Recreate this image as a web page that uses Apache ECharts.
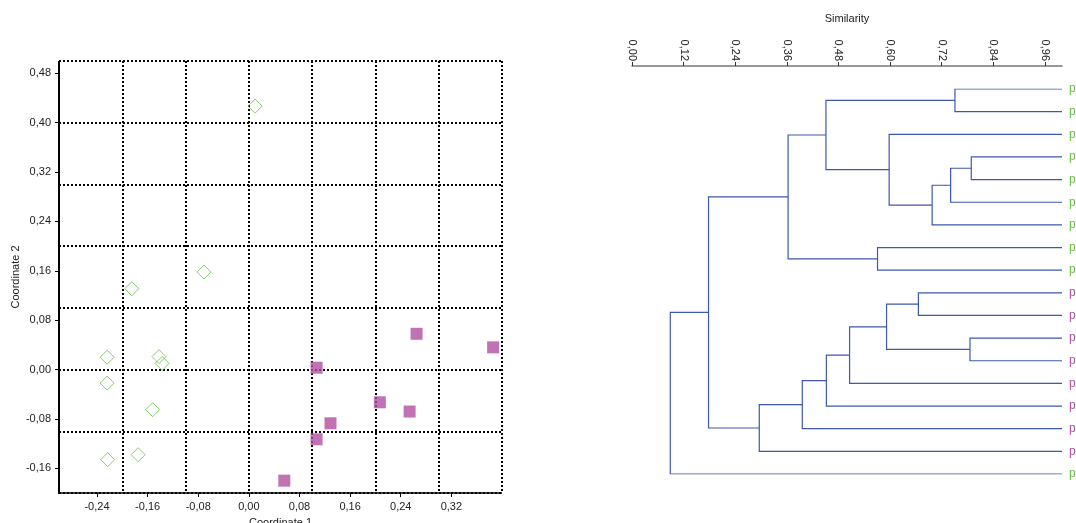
<!DOCTYPE html>
<html><head><meta charset="utf-8">
<script src="https://cdn.jsdelivr.net/npm/echarts@6/dist/echarts.min.js"></script>
<style>html,body{margin:0;padding:0;background:#fff}#c{width:1076px;height:523px}</style>
</head><body><div id="c"></div>
<script>
// ---- Scatter (PCoA) data ----
const groupAX = [0.010, -0.071, -0.185, -0.224, -0.142, -0.137, -0.224, -0.152, -0.175, -0.223];
const groupAY = [0.427, 0.158, 0.131, 0.020, 0.021, 0.010, -0.022, -0.065, -0.138, -0.146];
const groupBX = [0.265, 0.386, 0.107, 0.207, 0.254, 0.129, 0.107, 0.056];
const groupBY = [0.058, 0.036, 0.003, -0.053, -0.068, -0.087, -0.113, -0.180];
const scatterTicksX = [-0.24, -0.16, -0.08, 0, 0.08, 0.16, 0.24, 0.32];
const scatterTicksY = [-0.16, -0.08, 0, 0.08, 0.16, 0.24, 0.32, 0.40, 0.48];

// ---- Dendrogram data ----
const similarityTicks = [0, 0.12, 0.24, 0.36, 0.48, 0.60, 0.72, 0.84, 0.96];
const leafLabels = ['p','p','p','p','p','p','p','p','p','p','p','p','p','p','p','p','p','p'];
const leafGroups = ['A','A','A','A','A','A','A','A','A','B','B','B','B','B','B','B','B','A'];
// merges: node ids start at 18 (leaves 0..17 in display order)
const mergeLeft  = [0, 3, 19, 20, 2, 18, 7, 23, 9, 11, 26, 28, 29, 30, 31, 25, 33];
const mergeRight = [1, 4, 5, 6, 21, 22, 8, 24, 10, 12, 27, 13, 14, 15, 16, 32, 17];
const mergeSim   = [0.751, 0.789, 0.741, 0.698, 0.598, 0.451, 0.571, 0.363, 0.666, 0.786, 0.592, 0.506, 0.452, 0.396, 0.296, 0.178, 0.089];

const GREEN = '#66c044', MAGENTA = '#b24fa2', LINE = '#3d58ae';
const FONT = 'Liberation Sans, Arial, sans-serif';
const comma = v => (Math.round(v * 100) / 100).toFixed(2).replace('.', ',');

const nLeaves = leafLabels.length;
const pos = [];
for (let i = 0; i < nLeaves; i++) pos.push({x: 1, y: i});
const dendroLines = [];
for (let k = 0; k < mergeSim.length; k++) {
  const a = pos[mergeLeft[k]], b = pos[mergeRight[k]], s = mergeSim[k];
  dendroLines.push({coords: [[a.x, a.y], [s, a.y], [s, b.y], [b.x, b.y]]});
  pos.push({x: s, y: (a.y + b.y) / 2});
}

const dotted = {color: '#000', width: 2, type: [2, 2]};
const labelStyle = {color: '#222', fontSize: 11, fontFamily: FONT};

const chart = echarts.init(document.getElementById('c'));
chart.setOption({
  animation: false,
  backgroundColor: '#fff',
  grid: [
    {left: 59, top: 61, width: 443, height: 432, outerBoundsMode: 'none', containLabel: false},
    {left: 632, top: 89, width: 430, height: 385, outerBoundsMode: 'none', containLabel: false}
  ],
  xAxis: [
    {gridIndex: 0, type: 'value', position: 'bottom', min: -0.3, max: 0.4, interval: 0.1,
     axisLine: {onZero: false, lineStyle: dotted}, axisTick: {show: false}, axisLabel: {show: false},
     splitLine: {show: true, lineStyle: dotted}},
    {gridIndex: 0, type: 'value', position: 'bottom', min: -0.3, max: 0.4,
     axisLine: {show: false, onZero: false},
     axisTick: {show: true, customValues: scatterTicksX, length: 4, lineStyle: {color: '#000'}},
     axisLabel: Object.assign({customValues: scatterTicksX, formatter: comma, margin: 8}, labelStyle),
     splitLine: {show: false},
     name: 'Coordinate 1', nameLocation: 'middle', nameGap: 24,
     nameTextStyle: {color: '#222', fontSize: 11, fontFamily: FONT}},
    {gridIndex: 1, type: 'value', position: 'top', min: 0, max: 1, offset: 23,
     axisLine: {onZero: false, lineStyle: {color: '#777', width: 1.5}},
     axisTick: {show: true, customValues: similarityTicks, length: 4, lineStyle: {color: '#333'}},
     axisLabel: Object.assign({customValues: similarityTicks, formatter: comma, rotate: 90, margin: 5}, labelStyle),
     splitLine: {show: false},
     name: 'Similarity', nameLocation: 'middle', nameGap: 42,
     nameTextStyle: {color: '#222', fontSize: 11, fontFamily: FONT}}
  ],
  yAxis: [
    {gridIndex: 0, type: 'value', min: -0.2, max: 0.5, interval: 0.1,
     axisLine: {show: true, onZero: false, lineStyle: dotted}, axisTick: {show: false}, axisLabel: {show: false},
     splitLine: {show: true, lineStyle: dotted}},
    {gridIndex: 0, type: 'value', min: -0.2, max: 0.5, position: 'left',
     axisLine: {show: false, onZero: false},
     axisTick: {show: true, customValues: scatterTicksY, length: 4, lineStyle: {color: '#000'}},
     axisLabel: Object.assign({customValues: scatterTicksY, formatter: comma, margin: 8}, labelStyle),
     splitLine: {show: false},
     name: 'Coordinate 2', nameLocation: 'middle', nameGap: 38,
     nameTextStyle: {color: '#222', fontSize: 11, fontFamily: FONT}},
    {gridIndex: 1, type: 'value', min: 0, max: nLeaves - 1, inverse: true, position: 'right',
     axisLine: {show: false}, axisTick: {show: false}, splitLine: {show: false},
     axisLabel: {customValues: leafLabels.map((_, i) => i), margin: 7, fontSize: 12, fontFamily: FONT,
       formatter: v => { const i = Math.round(v); return '{' + (leafGroups[i] === 'A' ? 'a' : 'b') + '|' + leafLabels[i] + '}'; },
       rich: {a: {color: GREEN, fontSize: 12, fontFamily: FONT}, b: {color: MAGENTA, fontSize: 12, fontFamily: FONT}}}}
  ],
  series: [
    {type: 'scatter', xAxisIndex: 0, yAxisIndex: 0, symbol: 'diamond', symbolSize: 14,
     itemStyle: {color: 'rgba(255,255,255,0)', borderColor: GREEN, borderWidth: 1},
     data: groupAX.map((x, i) => [x, groupAY[i]])},
    {type: 'scatter', xAxisIndex: 0, yAxisIndex: 0, symbol: 'rect', symbolSize: 12,
     itemStyle: {color: MAGENTA},
     data: groupBX.map((x, i) => [x, groupBY[i]])},
    {type: 'lines', coordinateSystem: 'cartesian2d', xAxisIndex: 2, yAxisIndex: 2, polyline: true,
     lineStyle: {color: LINE, width: 1.2, opacity: 1}, data: dendroLines}
  ]
});
</script></body></html>
